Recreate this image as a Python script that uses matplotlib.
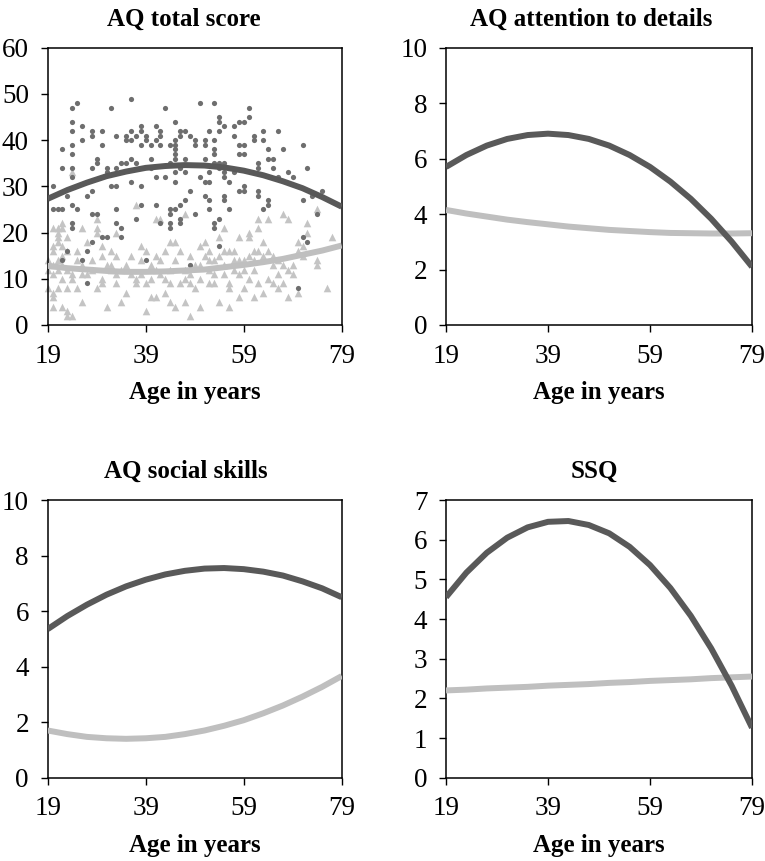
import matplotlib
matplotlib.use("Agg")
import matplotlib.pyplot as plt

plt.rcParams['font.family'] = ['Liberation Serif', 'DejaVu Serif']

# ---------------- data ----------------
ages_grid = [19, 23, 27, 31, 35, 39, 43, 47, 51, 55, 59, 63, 67, 71, 75, 79]

# AQ total score fitted curves
aq_total_dark = [27.3, 29.2, 30.8, 32.2, 33.2, 34.0, 34.4, 34.6, 34.5, 34.1, 33.4, 32.4, 31.1, 29.6, 27.7, 25.6]
aq_total_light = [12.8, 12.3, 12.0, 11.7, 11.5, 11.5, 11.6, 11.8, 12.0, 12.5, 13.0, 13.6, 14.3, 15.2, 16.1, 17.2]

# AQ attention to details
aq_att_dark = [5.7, 6.13, 6.47, 6.71, 6.85, 6.9, 6.85, 6.71, 6.47, 6.13, 5.7, 5.17, 4.55, 3.83, 3.01, 2.1]
aq_att_light = [4.15, 4.02, 3.91, 3.80, 3.71, 3.63, 3.55, 3.49, 3.43, 3.39, 3.35, 3.32, 3.31, 3.30, 3.30, 3.31]

# AQ social skills
aq_soc_dark = [5.35, 5.82, 6.23, 6.59, 6.89, 7.13, 7.32, 7.45, 7.53, 7.55, 7.51, 7.42, 7.28, 7.07, 6.82, 6.50]
aq_soc_light = [1.70, 1.57, 1.47, 1.42, 1.40, 1.42, 1.47, 1.57, 1.70, 1.87, 2.07, 2.32, 2.60, 2.92, 3.27, 3.66]

# SSQ
ssq_dark = [4.55, 5.17, 5.67, 6.05, 6.31, 6.45, 6.47, 6.37, 6.16, 5.82, 5.36, 4.78, 4.08, 3.26, 2.32, 1.26]
ssq_light = [2.20, 2.22, 2.25, 2.27, 2.29, 2.32, 2.34, 2.36, 2.39, 2.41, 2.44, 2.46, 2.48, 2.51, 2.53, 2.55]

# AQ total score individual points (dark circles)
dark_age = [20, 20, 21, 22, 22, 22, 24, 25, 24, 24, 24, 24, 24, 24, 24, 24, 24, 23, 23, 22,
            26, 25, 26, 27, 26, 27, 27, 28, 28, 28, 28, 28, 29, 29, 30, 29, 28, 30, 31, 31,
            30, 31, 32, 32, 33, 33, 33, 33, 33, 34, 34, 34, 35, 35, 35, 36, 36, 36, 37, 36,
            36, 37, 37, 38, 38, 38, 38, 39, 39, 38, 39, 40, 40, 40, 41, 41, 42, 41, 42, 42,
            41, 42, 43, 43, 44, 44, 44, 44, 44, 45, 45, 45, 45, 45, 44, 45, 45, 45, 46, 45,
            46, 46, 46, 46, 46, 47, 47, 47, 47, 48, 48, 48, 49, 49, 49, 50, 50, 51, 51, 51,
            51, 52, 51, 52, 52, 52, 52, 53, 53, 53, 53, 53, 54, 53, 53, 54, 54, 54, 54, 55,
            54, 55, 55, 55, 54, 55, 55, 56, 56, 57, 57, 57, 58, 58, 59, 58, 59, 58, 59, 59,
            59, 60, 60, 61, 61, 62, 62, 62, 62, 63, 64, 64, 63, 63, 64, 64, 65, 65, 66, 66,
            67, 68, 69, 70, 71, 71, 71, 72, 72, 73, 74, 75]
dark_score = [30, 25, 25, 25, 34, 38, 47, 48, 42, 44, 39, 37, 34, 32, 26, 21, 22, 28, 16, 14,
              40, 25, 43, 28, 14, 16, 9, 41, 34, 24, 42, 29, 36, 35, 42, 24, 18, 39, 34, 33,
              19, 19, 47, 30, 30, 34, 41, 25, 22, 19, 21, 35, 35, 40, 41, 42, 49, 40, 41, 36,
              31, 35, 23, 42, 30, 43, 39, 41, 40, 26, 14, 36, 39, 34, 43, 40, 42, 32, 39, 41,
              26, 22, 47, 32, 35, 24, 21, 22, 39, 40, 37, 33, 31, 25, 25, 44, 39, 38, 41, 36,
              34, 23, 22, 26, 42, 42, 36, 33, 27, 41, 29, 13, 24, 39, 40, 32, 48, 39, 40, 31,
              28, 27, 36, 42, 33, 25, 31, 48, 37, 35, 22, 21, 42, 40, 38, 35, 17, 45, 44, 43,
              34, 32, 27, 28, 23, 35, 33, 31, 25, 41, 43, 33, 44, 39, 39, 37, 37, 29, 29, 30,
              44, 47, 45, 41, 40, 35, 28, 29, 34, 25, 26, 27, 42, 40, 38, 36, 34, 36, 42, 32,
              38, 33, 32, 8, 27, 19, 39, 18, 34, 28, 24, 29]

# AQ total score individual points (light triangles)
light_age = [20, 20, 20, 20, 19, 20, 20, 20, 21, 21, 21, 21, 21, 22, 22, 22, 22, 22, 22, 23,
             23, 23, 23, 24, 23, 21, 24, 24, 24, 25, 25, 26, 26, 26, 27, 29, 29, 29, 29, 30,
             30, 30, 30, 31, 31, 32, 32, 33, 33, 33, 34, 35, 35, 36, 37, 37, 37, 39, 39, 40,
             41, 41, 41, 41, 42, 42, 43, 43, 43, 44, 44, 45, 45, 45, 44, 46, 47, 47, 47, 47,
             48, 48, 49, 49, 50, 50, 51, 51, 52, 52, 53, 53, 53, 54, 54, 54, 55, 55, 55, 56,
             56, 56, 56, 57, 57, 58, 58, 58, 59, 59, 60, 60, 60, 60, 61, 61, 61, 62, 62, 62,
             62, 63, 63, 64, 64, 64, 65, 65, 66, 66, 67, 67, 67, 68, 68, 68, 69, 70, 70, 71,
             71, 72, 72, 74, 74, 74, 76, 77,
             36, 38, 39, 40, 42, 44, 46, 48, 50, 52, 34, 32, 28, 27, 25, 23, 20, 19, 19, 21,
             22, 26, 28, 33, 38, 40, 48, 50, 52, 55, 57, 58, 59, 61, 63, 65, 66, 69, 70, 38]
light_score = [21, 16, 13, 11, 8, 7, 6, 4, 14, 20, 21, 19, 18, 21, 22, 13, 10, 4, 17, 12,
               16, 3, 2, 2, 8, 8, 33, 11, 10, 8, 14, 11, 21, 5, 11, 8, 23, 21, 20, 17,
               15, 10, 9, 13, 4, 13, 12, 15, 9, 20, 5, 7, 13, 11, 9, 10, 26, 9, 3, 6,
               6, 12, 15, 23, 23, 11, 7, 10, 16, 5, 18, 18, 4, 14, 9, 9, 12, 10, 24, 5,
               2, 9, 13, 8, 10, 4, 15, 18, 12, 9, 14, 11, 9, 19, 15, 5, 21, 13, 11, 9,
               16, 8, 4, 12, 14, 11, 6, 14, 8, 12, 15, 19, 20, 10, 16, 6, 12, 23, 21, 16,
               9, 18, 7, 23, 16, 10, 13, 9, 14, 8, 13, 9, 24, 6, 12, 23, 13, 18, 16, 15,
               17, 22, 20, 25, 14, 13, 8, 19,
               15, 14, 16, 13, 14, 12, 16, 15, 13, 16, 12, 16, 14, 18, 16, 19, 17, 14, 12, 12,
               15, 13, 12, 11, 11, 10, 11, 17, 14, 16, 16, 19, 14, 14, 15, 15, 11, 11, 7, 17]

panels = [
    ("AQ total score", aq_total_dark, aq_total_light, 60, 10),
    ("AQ attention to details", aq_att_dark, aq_att_light, 10, 2),
    ("AQ social skills", aq_soc_dark, aq_soc_light, 10, 2),
    ("SSQ", ssq_dark, ssq_light, 7, 1),
]

DARK_LINE = "#595959"
LIGHT_LINE = "#bfbfbf"
DARK_PT = "#6e6e6e"
LIGHT_PT = "#c4c4c4"

W, H = 765, 861
fig = plt.figure(figsize=(W / 100, H / 100), dpi=100)

# axes rectangles in pixels (left, top, right, bottom) and title centre x
rects = [
    (47.7, 47.7, 341.7, 325.0, 183.5),
    (446.0, 47.7, 752.0, 325.0, 591.0),
    (47.7, 500.0, 341.7, 777.7, 186.0),
    (446.0, 500.0, 752.0, 777.7, 594.0),
]

for i, (title, dark, light, ymax, ystep) in enumerate(panels):
    x0, y0, x1, y1, tx = rects[i]
    ax = fig.add_axes([x0 / W, 1 - y1 / H, (x1 - x0) / W, (y1 - y0) / H])
    if i == 0:
        ax.scatter(light_age, light_score, marker="^", s=30, color=LIGHT_PT,
                   linewidths=0, zorder=2, clip_on=False)
        ax.scatter(dark_age, dark_score, marker="o", s=14, color=DARK_PT,
                   linewidths=0, zorder=3, clip_on=False)
    ax.plot(ages_grid, dark, color=DARK_LINE, lw=4.3, solid_capstyle="butt",
            solid_joinstyle="round", zorder=5)
    ax.plot(ages_grid, light, color=LIGHT_LINE, lw=4.3, solid_capstyle="butt",
            solid_joinstyle="round", zorder=4)
    ax.set_xlim(19, 79)
    ax.set_ylim(0, ymax)
    ax.set_xticks([19, 39, 59, 79])
    ax.set_yticks(list(range(0, ymax + 1, ystep)))
    ax.tick_params(axis="both", direction="out", length=5, width=1,
                   labelsize=19.5, pad=8.5, color="black")
    for sp in ax.spines.values():
        sp.set_linewidth(1.1)
        sp.set_color("black")
    ax.set_title(title, fontsize=18, fontweight="bold", pad=16,
                 x=(tx - x0) / (x1 - x0))
    ax.set_xlabel("Age in years", fontsize=18, fontweight="bold", labelpad=9)

fig.savefig("out.png", dpi=100)
